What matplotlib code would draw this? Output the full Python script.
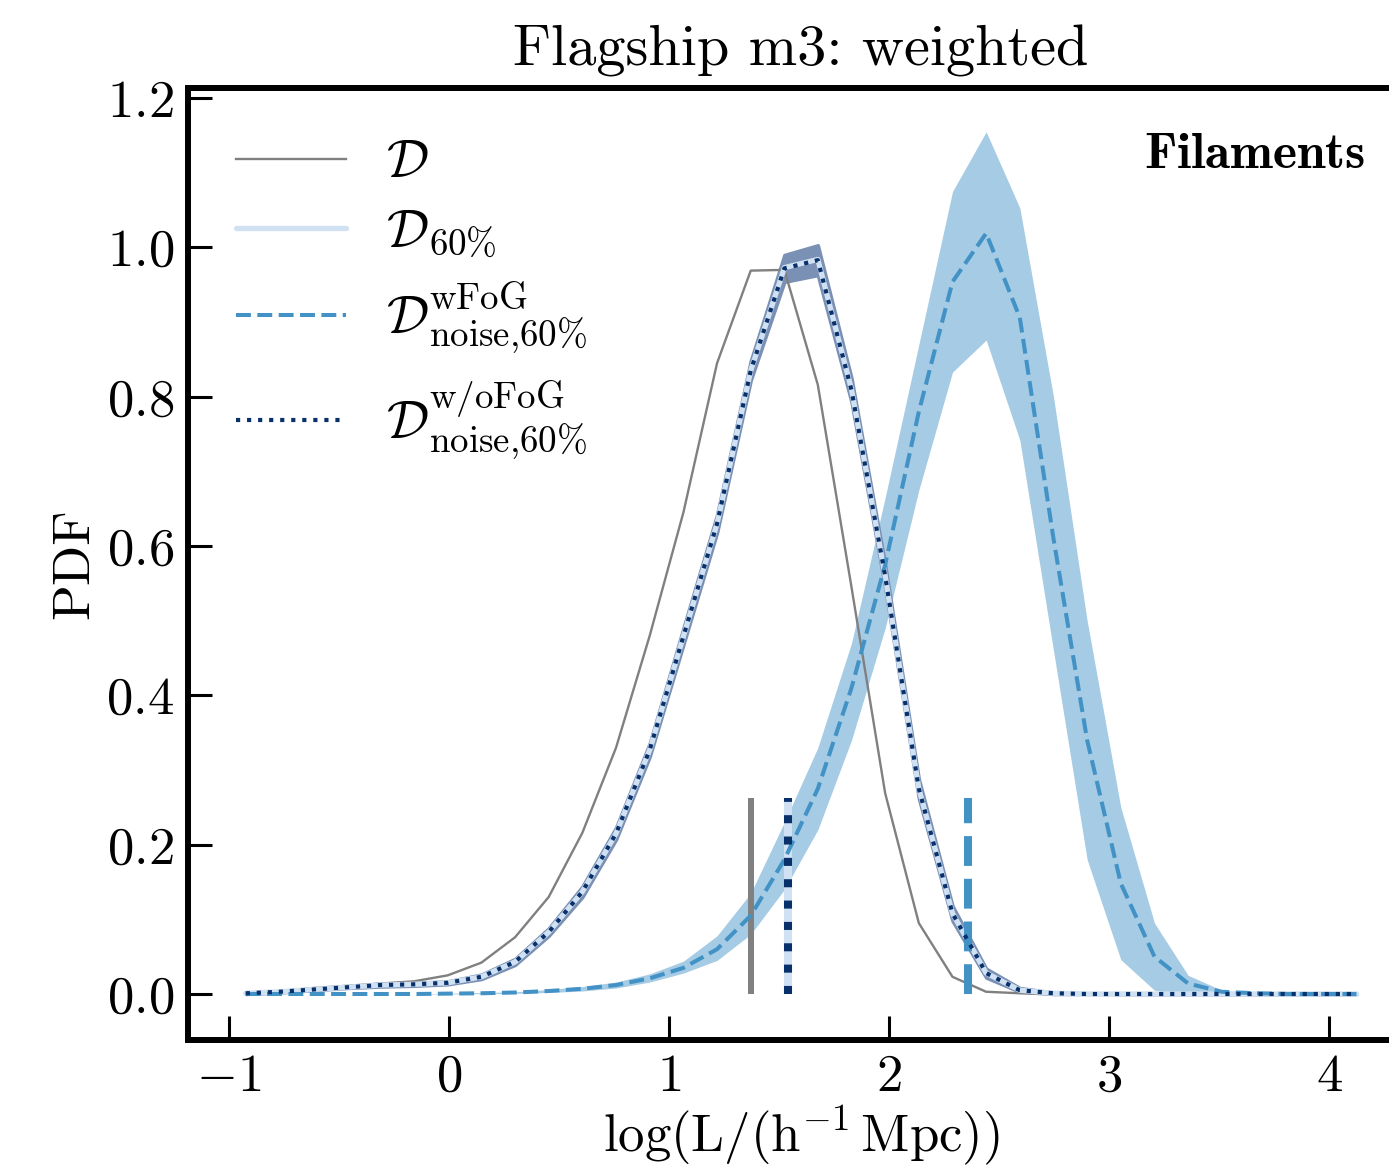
import matplotlib
matplotlib.use("Agg")
import matplotlib.pyplot as plt

plt.rcParams['font.family'] = 'serif'
plt.rcParams['font.serif'] = ['cmr10']
plt.rcParams['mathtext.fontset'] = 'cm'
plt.rcParams['axes.formatter.use_mathtext'] = True

# bin centres, log(L / (h^-1 Mpc))
x = [-0.924, -0.771, -0.618, -0.465, -0.312, -0.159, -0.006, 0.147, 0.300, 0.453,
     0.606, 0.759, 0.912, 1.065, 1.218, 1.371, 1.524, 1.676, 1.829, 1.982,
     2.135, 2.288, 2.441, 2.594, 2.747, 2.900, 3.053, 3.206, 3.359, 3.512,
     3.665, 3.818, 3.971, 4.124]

# D (full sample)
pdf_d = [0.001, 0.004, 0.008, 0.011, 0.014, 0.017, 0.025, 0.042, 0.076, 0.130,
         0.216, 0.330, 0.480, 0.645, 0.845, 0.969, 0.970, 0.816, 0.545, 0.269,
         0.095, 0.023, 0.003, 0.001, 0.0, 0.0, 0.0, 0.0, 0.0, 0.0,
         0.0, 0.0, 0.0, 0.0]

# D 60%
pdf_d60 = [0.001, 0.003, 0.006, 0.009, 0.012, 0.013, 0.015, 0.023, 0.043, 0.083,
           0.137, 0.215, 0.327, 0.479, 0.630, 0.835, 0.973, 0.984, 0.810, 0.560,
           0.275, 0.108, 0.028, 0.005, 0.001, 0.0, 0.0, 0.0, 0.0, 0.0,
           0.0, 0.0, 0.0, 0.0]

# noise 60%, without FoG: mean and spread
pdf_wofog = [0.001, 0.003, 0.006, 0.009, 0.012, 0.013, 0.015, 0.023, 0.043, 0.083,
             0.137, 0.215, 0.327, 0.479, 0.630, 0.835, 0.972, 0.983, 0.809, 0.560,
             0.275, 0.108, 0.028, 0.005, 0.001, 0.0, 0.0, 0.0, 0.0, 0.0,
             0.0, 0.0, 0.0, 0.0]
wofog_lo = [0.000, 0.002, 0.005, 0.008, 0.010, 0.011, 0.013, 0.020, 0.039, 0.078,
            0.130, 0.207, 0.318, 0.468, 0.618, 0.822, 0.954, 0.963, 0.793, 0.545,
            0.262, 0.098, 0.022, 0.003, 0.000, 0.0, 0.0, 0.0, 0.0, 0.0,
            0.0, 0.0, 0.0, 0.0]
wofog_hi = [0.002, 0.004, 0.007, 0.010, 0.014, 0.015, 0.017, 0.026, 0.047, 0.088,
            0.144, 0.223, 0.336, 0.490, 0.642, 0.848, 0.990, 1.003, 0.825, 0.575,
            0.288, 0.118, 0.034, 0.008, 0.002, 0.001, 0.0, 0.0, 0.0, 0.0,
            0.0, 0.0, 0.0, 0.0]

# noise 60%, with FoG: mean and spread
pdf_wfog = [0.0, 0.0, 0.0, 0.0, 0.0, 0.0, 0.0005, 0.001, 0.002, 0.004,
            0.007, 0.012, 0.021, 0.035, 0.060, 0.105, 0.180, 0.275, 0.410, 0.575,
            0.780, 0.954, 1.019, 0.906, 0.610, 0.340, 0.148, 0.050, 0.014, 0.003,
            0.001, 0.0, 0.0, 0.0]
wfog_lo = [0.0, 0.0, 0.0, 0.0, 0.0, 0.0, 0.0, 0.0005, 0.001, 0.002,
           0.004, 0.008, 0.016, 0.028, 0.045, 0.080, 0.140, 0.220, 0.340, 0.490,
           0.675, 0.833, 0.876, 0.742, 0.460, 0.180, 0.046, 0.005, 0.0, 0.0,
           0.0, 0.0, 0.0, 0.0]
wfog_hi = [0.0, 0.0, 0.0, 0.0, 0.0, 0.0, 0.001, 0.002, 0.003, 0.006,
           0.010, 0.016, 0.027, 0.044, 0.078, 0.135, 0.230, 0.330, 0.470, 0.665,
           0.870, 1.075, 1.155, 1.053, 0.800, 0.500, 0.250, 0.095, 0.025, 0.005,
           0.001, 0.0, 0.0, 0.0]

# medians
med_d = 1.373
med_d60 = 1.541
med_wofog = 1.541
med_wfog = 2.359
med_height = 0.262

grey = '#808080'
light = '#cfe1f2'
mid = '#4292c6'
dark = '#08306b'
band_dark = '#7a90b4'

fig = plt.figure(figsize=(13.89, 11.68), dpi=100)
ax = fig.add_axes([0.1354, 0.1096, 0.8827, 0.8151])

ax.fill_between(x, wfog_lo, wfog_hi, color=mid, alpha=0.47, lw=0, zorder=1)
ax.plot(x, pdf_d, color=grey, lw=1.7, zorder=3, label=r'$\mathcal{D}$')
ax.fill_between(x, wofog_lo, wofog_hi, facecolor=band_dark, edgecolor=band_dark,
                lw=2.5, zorder=2)
ax.plot(x, pdf_d60, color=light, lw=3.8, zorder=4, label=r'$\mathcal{D}_{60\%}$',
        solid_capstyle='round')
ax.plot(x, pdf_wfog, color=mid, lw=2.9, ls='--', zorder=5,
        label=r'$\mathcal{D}^{\rm wFoG}_{\rm noise{,}60\%}$')
ax.plot(x, pdf_wofog, color=dark, lw=3.0, ls=':', zorder=6,
        label=r'$\mathcal{D}^{\rm w/oFoG}_{\rm noise{,}60\%}$')

ax.vlines(med_d, 0, med_height, color=grey, lw=4.3, zorder=3)
ax.vlines(med_d60, 0, med_height, color=light, lw=5.8, zorder=4)
ax.vlines(med_wfog, 0, med_height, color=mid, lw=5.8, ls='--', zorder=5)
ax.vlines(med_wofog, 0, med_height, color=dark, lw=5.8, ls=':', zorder=6)

ax.set_xlim(-1.186, 4.386)
ax.set_ylim(-0.0616, 1.2137)
ax.set_xticks([-1, 0, 1, 2, 3, 4])
ax.set_yticks([0.0, 0.2, 0.4, 0.6, 0.8, 1.0, 1.2])
ax.tick_params(direction='in', length=17, width=2.2, labelsize=38, pad=10,
               top=False, right=False)
for s in ax.spines.values():
    s.set_linewidth(4.3)

ax.set_xlabel(r'$\mathrm{log(L/(h^{-1}\,Mpc))}$', fontsize=38, labelpad=2)
ax.set_ylabel('PDF', fontsize=38, labelpad=6)
ax.set_title('Flagship m3: weighted', fontsize=42, pad=16)

ax.text(0.96, 0.9297, r'$\mathbf{Filaments}$', transform=ax.transAxes,
        fontsize=37, ha='right', va='center')

ax.legend(loc='upper left', frameon=False, fontsize=38, handlelength=2.1,
          handletextpad=0.75, labelspacing=0.4, borderaxespad=0.5,
          bbox_to_anchor=(0.0, 0.995))

fig.savefig('out.png', dpi=100)
